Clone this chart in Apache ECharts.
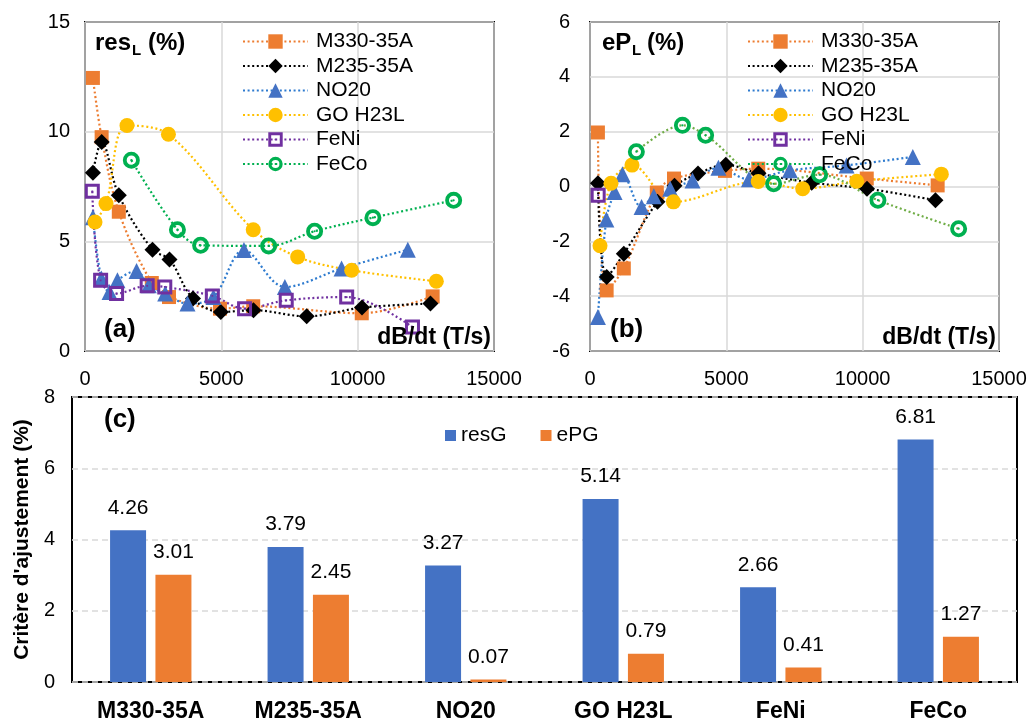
<!DOCTYPE html>
<html>
<head>
<meta charset="utf-8">
<script src="https://cdn.jsdelivr.net/npm/echarts@6/dist/echarts.min.js"></script>
<style>html,body{margin:0;padding:0;background:#fff}#c{width:1032px;height:724px}</style>
</head>
<body>
<div id="c"></div>
<script>
// ---- data ----
const materials = ['M330-35A', 'M235-35A', 'NO20', 'GO H23L', 'FeNi', 'FeCo'];
const xTicks = [0, 5000, 10000, 15000];

// dB/dt (T/s) per material
const x_M330 = [290, 610, 1240, 2450, 3080, 4950, 6170, 10150, 12750];
const resL_M330 = [12.45, 9.75, 6.35, 3.1, 2.46, 1.93, 2.04, 1.72, 2.49];
const ePL_M330 = [1.97, -3.79, -2.99, -0.22, 0.29, 0.57, 0.65, 0.29, 0.04];

const x_M235 = [290, 612, 1240, 2475, 3100, 3960, 4980, 6180, 8130, 10160, 12670];
const resL_M235 = [8.13, 9.53, 7.1, 4.62, 4.17, 2.39, 1.78, 1.86, 1.58, 1.98, 2.16];
const ePL_M235 = [0.12, -3.3, -2.45, -0.56, 0.03, 0.47, 0.79, 0.48, 0.14, -0.08, -0.5];

const x_NO20 = [290, 600, 900, 1190, 1890, 2340, 2940, 3760, 4710, 5830, 7330, 9410, 11840];
const resL_NO20 = [6.1, 3.3, 2.69, 3.22, 3.65, 3.0, 2.62, 2.16, 2.46, 4.6, 2.92, 3.76, 4.62];
const ePL_NO20 = [-4.76, -1.2, -0.2, 0.45, -0.75, -0.36, -0.08, 0.22, 0.68, 0.26, 0.59, 0.77, 1.08];

const x_GO = [367, 770, 1540, 3060, 6170, 7800, 9780, 12885];
const resL_GO = [5.88, 6.72, 10.28, 9.88, 5.53, 4.29, 3.68, 3.18];
const ePL_GO = [-2.16, 0.12, 0.78, -0.56, 0.18, -0.08, 0.19, 0.45];

const x_FeNi = [268, 573, 1158, 2280, 2926, 4670, 5852, 7380, 9597, 12010];
const resL_FeNi = [7.28, 3.22, 2.62, 2.97, 2.92, 2.51, 1.93, 2.31, 2.46, 1.09];
const x_FeNi_b = [300];
const ePL_FeNi = [-0.32];

const x_FeCo = [1700, 3390, 4240, 6735, 8420, 10560, 13520];
const resL_FeCo = [8.7, 5.53, 4.82, 4.79, 5.46, 6.08, 6.87];
const ePL_FeCo = [1.27, 2.23, 1.87, 0.1, 0.43, -0.5, -1.54];

// panel (c)
const resG = [4.26, 3.79, 3.27, 5.14, 2.66, 6.81];
const ePG = [3.01, 2.45, 0.07, 0.79, 0.41, 1.27];

// ---- styles ----
const FONT = 'Liberation Sans, Arial, sans-serif';
const pairs = (xs, ys) => xs.map((v, i) => [v, ys[i]]);
const SYM_FENI = 'path://M0,0 L20,0 L20,20 L0,20 Z M4,4 L4,16 L16,16 L16,4 Z M8.8,8.8 L11.2,8.8 L11.2,11.2 L8.8,11.2 Z';
const SYM_FECO = 'path://M10,0 A10,10 0 1,1 10,20 A10,10 0 1,1 10,0 Z M10,4.5 A5.5,5.5 0 1,0 10,15.5 A5.5,5.5 0 1,0 10,4.5 Z M10,8.7 A1.3,1.3 0 1,1 10,11.3 A1.3,1.3 0 1,1 10,8.7 Z';

const matStyle = {
  'M330-35A': { symbol: 'rect', size: 14, color: '#ED7D31', line: '#ED7D31' },
  'M235-35A': { symbol: 'diamond', size: 16, color: '#000000', line: '#000000' },
  'NO20': { symbol: 'triangle', size: 16, color: '#4472C4', line: '#2E7BCF' },
  'GO H23L': { symbol: 'circle', size: 15, color: '#FFC000', line: '#FFC000' },
  'FeNi': { symbol: SYM_FENI, size: 15, color: '#7030A0', line: '#7030A0' },
  'FeCo': { symbol: SYM_FECO, size: 17, color: '#00B050', line: '#00B050' }
};

function lineSeries(name, data, gi, lineColor) {
  const s = matStyle[name];
  return {
    type: 'line', name: name, data: data,
    xAxisIndex: gi, yAxisIndex: gi,
    smooth: 0.35,
    symbol: s.symbol, symbolSize: s.size,
    showAllSymbol: true,
    itemStyle: { color: s.color, opacity: 1 },
    lineStyle: { color: lineColor || s.line, width: 2.2, type: [2, 2.6] },
    emphasis: { disabled: true },
    animation: false
  };
}

const gridStyle = { show: true, borderColor: '#000', borderWidth: 2, backgroundColor: 'transparent' };
const tickLabel = { fontFamily: FONT, fontSize: 20, color: '#000' };
const splitSolid = { show: true, lineStyle: { color: '#D9D9D9', width: 1.5 } };

function valueX(gi) {
  return {
    type: 'value', gridIndex: gi, min: xTicks[0], max: xTicks[xTicks.length - 1], interval: 5000,
    axisLine: { show: false }, axisTick: { show: false },
    axisLabel: Object.assign({ margin: 18, formatter: v => String(v) }, tickLabel),
    splitLine: splitSolid
  };
}

const legendCommon = {
  orient: 'vertical', itemWidth: 65, itemHeight: 18, itemGap: 3.5, padding: 0,
  selectedMode: false, data: materials,
  textStyle: { fontFamily: FONT, fontSize: 21, color: '#000', padding: [0, 0, 0, 3] }
};

function txt(x, y, text, size, bold, align) {
  return {
    type: 'text', x: x, y: y, z: 100,
    style: {
      text: text, font: (bold ? 'bold ' : '') + size + 'px ' + FONT,
      fill: '#000', align: align || 'left', verticalAlign: 'middle'
    }
  };
}

const option = {
  backgroundColor: '#fff',
  animation: false,
  grid: [
    Object.assign({ left: 85, top: 22, width: 409, height: 329 }, gridStyle),
    Object.assign({ left: 590, top: 22, width: 409, height: 329 }, gridStyle),
    Object.assign({ left: 72, top: 397, width: 945, height: 285 }, gridStyle)
  ],
  xAxis: [
    valueX(0), valueX(1),
    {
      type: 'category', gridIndex: 2, data: materials,
      axisLine: { show: false }, axisTick: { show: false },
      axisLabel: { interval: 0, margin: 18, fontFamily: FONT, fontSize: 23, fontWeight: 'bold', color: '#000' }
    }
  ],
  yAxis: [
    {
      type: 'value', gridIndex: 0, min: 0, max: 15, interval: 5,
      axisLine: { show: false }, axisTick: { show: false },
      axisLabel: Object.assign({ margin: 15 }, tickLabel), splitLine: splitSolid
    },
    {
      type: 'value', gridIndex: 1, min: -6, max: 6, interval: 2,
      axisLine: { show: false }, axisTick: { show: false },
      axisLabel: Object.assign({ margin: 20 }, tickLabel), splitLine: splitSolid
    },
    {
      type: 'value', gridIndex: 2, min: 0, max: 8, interval: 2,
      axisLine: { show: false }, axisTick: { show: false },
      axisLabel: Object.assign({ margin: 17 }, tickLabel),
      splitLine: { show: true, lineStyle: { color: '#D9D9D9', width: 1.5, type: [6, 4] } },
      name: "Critère d'ajustement (%)", nameLocation: 'middle', nameGap: 38, nameRotate: 90,
      nameTextStyle: { fontFamily: FONT, fontSize: 21, fontWeight: 'bold', color: '#000' }
    }
  ],
  legend: [
    Object.assign({ left: 242, top: 31 }, legendCommon),
    Object.assign({ left: 747, top: 31 }, legendCommon),
    {
      left: 445, top: 425, orient: 'horizontal', icon: 'rect', itemWidth: 11, itemHeight: 11, itemGap: 34,
      padding: 0, selectedMode: false, data: ['resG', 'ePG'],
      textStyle: { fontFamily: FONT, fontSize: 21, color: '#000' }
    }
  ],
  series: [
    lineSeries('M330-35A', pairs(x_M330, resL_M330), 0),
    lineSeries('M235-35A', pairs(x_M235, resL_M235), 0),
    lineSeries('NO20', pairs(x_NO20, resL_NO20), 0),
    lineSeries('GO H23L', pairs(x_GO, resL_GO), 0),
    lineSeries('FeNi', pairs(x_FeNi, resL_FeNi), 0),
    lineSeries('FeCo', pairs(x_FeCo, resL_FeCo), 0),
    lineSeries('M330-35A', pairs(x_M330, ePL_M330), 1),
    lineSeries('M235-35A', pairs(x_M235, ePL_M235), 1),
    lineSeries('NO20', pairs(x_NO20, ePL_NO20), 1),
    lineSeries('GO H23L', pairs(x_GO, ePL_GO), 1),
    lineSeries('FeNi', pairs(x_FeNi_b, ePL_FeNi), 1),
    lineSeries('FeCo', pairs(x_FeCo, ePL_FeCo), 1, '#70AD47'),
    {
      type: 'bar', name: 'resG', data: resG, xAxisIndex: 2, yAxisIndex: 2,
      barWidth: 36, barGap: '26%', itemStyle: { color: '#4472C4' },
      label: { show: true, position: 'top', distance: 12, fontFamily: FONT, fontSize: 21, color: '#000' },
      emphasis: { disabled: true }
    },
    {
      type: 'bar', name: 'ePG', data: ePG, xAxisIndex: 2, yAxisIndex: 2,
      barWidth: 36, barGap: '26%', itemStyle: { color: '#ED7D31' },
      label: { show: true, position: 'top', distance: 12, fontFamily: FONT, fontSize: 21, color: '#000' },
      emphasis: { disabled: true }
    }
  ],
  graphic: [
    txt(95, 43, 'res', 24, true),
    txt(132, 51, 'L', 15, true),
    txt(148, 43, '(%)', 24, true),
    txt(602, 43, 'eP', 24, true),
    txt(632, 51, 'L', 15, true),
    txt(647, 43, '(%)', 24, true),
    txt(104, 330, '(a)', 26, true),
    txt(610, 330, '(b)', 26, true),
    txt(491, 338, 'dB/dt (T/s)', 23, true, 'right'),
    txt(996, 338, 'dB/dt (T/s)', 23, true, 'right'),
    txt(104, 420, '(c)', 26, true)
  ]
};

const chart = echarts.init(document.getElementById('c'), null, { renderer: 'canvas' });
chart.setOption(option);
</script>
</body>
</html>
